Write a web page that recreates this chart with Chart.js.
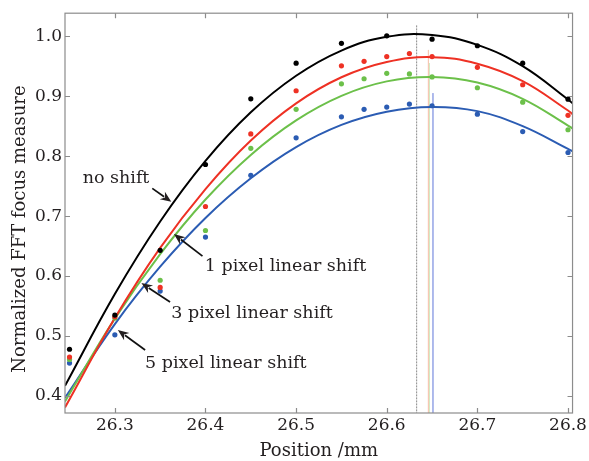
<!DOCTYPE html>
<html>
<head>
<meta charset="utf-8">
<script src="https://cdn.jsdelivr.net/npm/chart.js@4.4.1/dist/chart.umd.min.js"></script>
<style>
html,body{margin:0;padding:0;background:#fff;}
#wrap{width:589px;height:461px;}
</style>
</head>
<body>
<div id="wrap"><canvas id="c" width="589" height="461"></canvas></div>
<script>
// ---- measured points (null = hidden under the fitted curve) ----
const pointX = [26.25, 26.3, 26.35, 26.4, 26.45, 26.5, 26.55, 26.575, 26.6, 26.625, 26.65, 26.7, 26.75, 26.8];
const noShiftPts = [0.478, 0.535, 0.643, 0.786, 0.8955, 0.955, 0.988, null, 1.0005, null, 0.995, 0.984, 0.955, 0.895];
const shift1Pts  = [0.465, 0.532, 0.581, 0.716, 0.837, 0.909, 0.9505, 0.958, 0.966, 0.971, 0.966, 0.948, 0.919, 0.868];
const shift3Pts  = [0.461, 0.530, 0.593, 0.676, 0.813, 0.878, 0.9205, 0.929, 0.938, 0.937, 0.932, 0.914, 0.890, 0.844];
const shift5Pts  = [0.455, 0.502, 0.575, 0.665, 0.768, 0.8305, 0.8655, 0.878, 0.8817, 0.8867, 0.884, 0.870, 0.841, 0.806];

// ---- fitted curves ----
const curveX = [26.245, 26.3, 26.35, 26.4, 26.45, 26.5, 26.55, 26.6, 26.65, 26.7, 26.75, 26.8, 26.805];
const noShiftFit = [0.417, 0.570, 0.691, 0.792, 0.873, 0.934, 0.976, 0.999, 1.002, 0.9855, 0.950, 0.8945, 0.888];
const shift1Fit  = [0.381, 0.530, 0.647, 0.745, 0.826, 0.888, 0.9315, 0.957, 0.965, 0.954, 0.925, 0.876, 0.870];
const shift3Fit  = [0.391, 0.529, 0.6365, 0.7276, 0.802, 0.8596, 0.9005, 0.9246, 0.932, 0.9226, 0.8955, 0.851, 0.846];
const shift5Fit  = [0.397, 0.520, 0.6156, 0.6968, 0.763, 0.815, 0.852, 0.874, 0.882, 0.875, 0.850, 0.812, 0.808];

// ---- peak position markers ----
const peakX   = [26.633, 26.646, 26.647, 26.651];
const peakTop = [1.018, 0.977, 0.955, 0.905];

// ---- axes ----
const xTicks = [26.3, 26.4, 26.5, 26.6, 26.7, 26.8];
const yTicks = [0.4, 0.5, 0.6, 0.7, 0.8, 0.9, 1.0];
const xMin = 26.245, xMax = 26.805, yMin = 0.3717, yMax = 1.0383;
const yTitle = 'Normalized FFT focus measure';

// ---- annotations ----
const annoText  = ["no shift", "1 pixel linear shift", "3 pixel linear shift", "5 pixel linear shift"];
const annoTextX = [26.2645, 26.3992, 26.3623, 26.3334];
const annoTextY = [0.7628, 0.6155, 0.5378, 0.4545];
const arrowTailX = [26.3413, 26.3967, 26.3609, 26.3334];
const arrowTailY = [0.7462, 0.6333, 0.5567, 0.4767];
const arrowTipX  = [26.3623, 26.3652, 26.3293, 26.3033];
const arrowTipY  = [0.7238, 0.6700, 0.5883, 0.5100];

const colors = ['#000000', '#ee3124', '#6cc04a', '#2b5cb3'];
const peakColors = ['#8a8a8a', '#f6c9b4', '#d3ebc6', '#a3b0ea'];
const TXT = '#231f20';
const FONT = "'DejaVu Serif', 'Liberation Serif', serif";

const pts = [noShiftPts, shift1Pts, shift3Pts, shift5Pts];
const fits = [noShiftFit, shift1Fit, shift3Fit, shift5Fit];
const names = ['no shift', '1 pixel linear shift', '3 pixel linear shift', '5 pixel linear shift'];

const datasets = [];
pts.forEach((arr, i) => {
  datasets.push({
    type: 'scatter', label: names[i] + ' (measured)',
    data: pointX.map((x, j) => ({x, y: arr[j]})).filter(p => p.y !== null),
    backgroundColor: colors[i], borderColor: colors[i],
    pointRadius: 2.6, pointBorderWidth: 0, showLine: false, order: 0
  });
});
fits.forEach((arr, i) => {
  datasets.push({
    type: 'line', label: names[i] + ' (fit)',
    data: curveX.map((x, j) => ({x, y: arr[j]})),
    borderColor: colors[i], borderWidth: 2, pointRadius: 0,
    tension: 0.4, fill: false, order: 1
  });
});
peakX.forEach((x, i) => {
  datasets.push({
    type: 'line', label: 'peak ' + i,
    data: [{x, y: peakTop[i]}, {x, y: yMin}],
    borderColor: peakColors[i], borderWidth: 1, pointRadius: 0,
    borderDash: i === 0 ? [2, 1] : [], fill: false, order: 2
  });
});

const framePlugin = {
  id: 'frame',
  afterDatasetsDraw(chart) {
    const {ctx, chartArea: a, scales: {x, y}} = chart;
    ctx.save();
    ctx.strokeStyle = '#8c8c8c';
    ctx.lineWidth = 1.2;
    ctx.strokeRect(a.left, a.top, a.right - a.left, a.bottom - a.top);
    ctx.beginPath();
    const L = 5;
    xTicks.forEach(v => {
      const px = Math.round(x.getPixelForValue(v)) + 0.5;
      ctx.moveTo(px, a.bottom); ctx.lineTo(px, a.bottom - L);
      ctx.moveTo(px, a.top); ctx.lineTo(px, a.top + L);
    });
    yTicks.forEach(v => {
      const py = Math.round(y.getPixelForValue(v)) + 0.5;
      ctx.moveTo(a.left, py); ctx.lineTo(a.left + L, py);
      ctx.moveTo(a.right, py); ctx.lineTo(a.right - L, py);
    });
    ctx.stroke();

    // y axis title
    ctx.save();
    ctx.translate(20, a.top + (a.bottom - a.top) * 0.54);
    ctx.rotate(-Math.PI / 2);
    ctx.fillStyle = TXT;
    ctx.font = "18px " + FONT;
    ctx.textAlign = 'center';
    ctx.textBaseline = 'middle';
    ctx.fillText(yTitle, 0, 0);
    ctx.restore();

    // annotations
    ctx.fillStyle = TXT;
    ctx.strokeStyle = '#111';
    ctx.font = "17.5px " + FONT;
    ctx.textAlign = 'left';
    ctx.textBaseline = 'middle';
    annoText.forEach((t, i) => {
      ctx.fillText(t, x.getPixelForValue(annoTextX[i]), y.getPixelForValue(annoTextY[i]));
      const x0 = x.getPixelForValue(arrowTailX[i]), y0 = y.getPixelForValue(arrowTailY[i]);
      const x1 = x.getPixelForValue(arrowTipX[i]), y1 = y.getPixelForValue(arrowTipY[i]);
      const ang = Math.atan2(y1 - y0, x1 - x0);
      const hl = 11, hw = 4.5;
      ctx.lineWidth = 1.7;
      ctx.beginPath();
      ctx.moveTo(x0, y0);
      ctx.lineTo(x1 - Math.cos(ang) * hl * 0.8, y1 - Math.sin(ang) * hl * 0.8);
      ctx.stroke();
      ctx.beginPath();
      ctx.moveTo(x1, y1);
      ctx.lineTo(x1 - Math.cos(ang) * hl - Math.sin(ang) * hw, y1 - Math.sin(ang) * hl + Math.cos(ang) * hw);
      ctx.lineTo(x1 - Math.cos(ang) * hl * 0.7, y1 - Math.sin(ang) * hl * 0.7);
      ctx.lineTo(x1 - Math.cos(ang) * hl + Math.sin(ang) * hw, y1 - Math.sin(ang) * hl - Math.cos(ang) * hw);
      ctx.closePath();
      ctx.fill();
    });
    ctx.restore();
  }
};

new Chart(document.getElementById('c'), {
  data: {datasets},
  options: {
    responsive: false,
    devicePixelRatio: 1,
    animation: false,
    layout: {padding: {top: 13, right: 8, left: 0, bottom: 0}},
    plugins: {legend: {display: false}, tooltip: {enabled: false}},
    scales: {
      x: {
        type: 'linear', min: xMin, max: xMax,
        grid: {display: false, drawTicks: false},
        border: {display: false},
        afterBuildTicks: s => { s.ticks = xTicks.map(v => ({value: v})); },
        afterFit: s => { s.height = 48; },
        ticks: {
          padding: 2, color: TXT, maxRotation: 0,
          font: {family: FONT, size: 17},
          callback: v => Number(v).toFixed(1)
        },
        title: {display: true, text: 'Position /mm', color: TXT,
          font: {family: FONT, size: 18, lineHeight: 1.1}, padding: {top: 0, bottom: 0}}
      },
      y: {
        type: 'linear', min: yMin, max: yMax,
        grid: {display: false, drawTicks: false},
        border: {display: false},
        afterBuildTicks: s => { s.ticks = yTicks.map(v => ({value: v})); },
        afterFit: s => { s.width = 65; },
        ticks: {
          padding: 3, color: TXT,
          font: {family: FONT, size: 17},
          callback: v => Number(v).toFixed(1)
        },
        title: {display: false}
      }
    }
  },
  plugins: [framePlugin]
});
</script>
</body>
</html>
